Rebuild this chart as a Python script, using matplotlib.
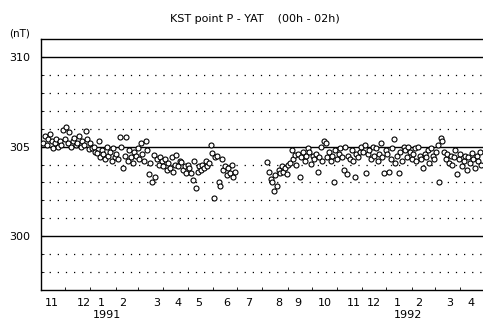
import numpy as np
import matplotlib
matplotlib.use("Agg")
import matplotlib.pyplot as plt

# daily-ish values (nT), sampled every 2 days, days counted from 1990-11-01
seg1_start = 3
seg1_vals = [
    305.2, 305.6, 305.1, 305.4, 305.7, 305.3, 304.9, 305.2, 305.4, 305.0, 305.3,
    305.1, 305.9, 305.4, 306.1, 305.2, 305.8, 305.0, 305.3, 305.5, 305.1,
    305.2, 305.6, 305.0, 305.3, 305.1, 305.85, 305.4, 304.85, 305.2, 304.9, 305.0, 304.7,
    304.65, 305.3, 304.4, 304.8, 304.6, 304.3, 305.0, 304.5, 304.7, 304.2, 304.9, 304.4,
    304.6, 304.3, 305.55, 305.0, 303.8, 304.5, 305.55, 304.2, 304.8, 304.4, 304.1, 304.7,
    304.5, 304.9, 304.3, 305.2,
    304.6, 304.2, 305.3, 304.8, 303.45, 304.1, 303.05, 304.55, 303.3, 304.3, 304.0, 304.4,
    304.2, 303.9, 304.3, 303.7, 304.1, 303.8, 304.4, 303.6, 304.0, 304.55, 303.9, 304.2,
    304.15, 303.7, 303.9, 303.5, 304.0, 303.8,
    303.5, 303.15, 304.2, 302.7, 303.6, 303.9,
    303.7, 304.0, 303.8, 304.2, 303.9, 304.1, 305.1, 304.65,
    302.15, 304.4, 304.5, 303.05, 302.8, 304.3,
    303.7, 303.9, 303.4, 303.8, 303.5, 304.0, 303.3, 303.6,
]
seg2_start = 279
seg2_vals = [
    304.15, 303.6, 303.2, 303.0, 302.5, 303.4, 302.8,
    303.7, 303.5, 303.9, 303.6, 303.8, 303.45, 304.0, 304.1,
    304.8, 304.3, 304.55, 304.0, 304.6, 303.3, 304.4, 304.7, 304.2, 304.5, 304.9,
    304.7, 304.05, 304.5, 304.3, 304.6, 303.6, 304.4, 304.95, 304.2,
    305.3, 305.2, 304.4, 304.7, 304.2, 304.5, 303.05, 304.8, 304.3, 304.6, 304.9, 304.4,
    303.7, 304.95, 303.45, 304.5, 304.3, 304.8, 304.2, 303.3, 304.6, 304.4, 304.7, 305.0,
    304.7, 305.1, 303.5, 304.6, 304.8, 304.3, 305.0, 304.5, 304.9, 304.2, 304.6, 305.2,
    304.4, 303.5, 304.8, 304.6, 303.6, 304.3, 304.9, 305.4, 304.1, 304.5, 303.5, 304.7,
    304.2, 305.0, 304.8, 304.4,
    305.0, 304.7, 304.3, 304.6, 304.9, 304.2, 305.0, 304.5, 304.3, 303.8, 304.6, 304.4,
    304.8, 304.1, 304.9, 304.5, 304.3, 304.7,
    305.1, 303.05, 305.5, 305.3, 304.7, 304.3, 304.6, 304.1, 304.5, 304.0, 304.4, 304.8,
    303.45, 304.3, 304.6, 303.9, 304.2, 304.5, 303.7, 304.4, 304.1, 304.65, 304.3, 303.8,
    304.5, 304.2, 304.7, 304.0,
]

month_labels = ["11", "12", "1", "2", "3", "4", "5", "6", "7", "8", "9",
                "10", "11", "12", "1", "2", "3", "4"]
month_label_days = [13.5, 53, 75, 101, 143, 168.5, 194, 229, 256, 293, 317,
                    350.5, 386, 411, 439, 466, 504, 530]
month_start_days = [0, 30, 61, 92, 120, 151, 181, 212, 242, 273, 304, 334,
                    365, 396, 426, 457, 486, 517]
years = ["1991", "1992"]
year_days = [81, 453]

x1 = seg1_start + 2 * np.arange(len(seg1_vals))
x2 = seg2_start + 2 * np.arange(len(seg2_vals))

fig = plt.figure(figsize=(4.83, 3.26), dpi=100)
ax = fig.add_axes([41 / 483, 36 / 326, 1 - 41 / 483, 251 / 326])

for v in range(298, 311):
    if v % 5 == 0:
        ax.axhline(v, color="black", lw=1.0, zorder=1)
    else:
        ax.axhline(v, color="black", lw=0.9, ls=(0, (1, 5.5)), zorder=1)

ax.plot(x1, seg1_vals, "o", ms=3.6, mfc="white", mec="black", mew=0.8, zorder=3)
ax.plot(x2, seg2_vals, "o", ms=3.6, mfc="white", mec="black", mew=0.8, zorder=3)

ax.set_xlim(0, 545)
ax.set_ylim(297, 311)
ax.spines["right"].set_visible(False)
for s in ["left", "top", "bottom"]:
    ax.spines[s].set_linewidth(1.0)

ax.set_yticks([300, 305, 310])
ax.set_yticklabels(["300", "305", "310"], fontsize=8)
ax.set_yticks(range(297, 312), minor=True)
ax.tick_params(axis="y", which="both", direction="in", length=2, pad=8)

ax.set_xticks(month_start_days, minor=True)
ax.set_xticks([])
ax.tick_params(axis="x", which="minor", direction="in", length=2)
for lab, d in zip(month_labels, month_label_days):
    ax.text(d, -0.03, lab, transform=ax.get_xaxis_transform(),
            ha="center", va="top", fontsize=8)
for lab, d in zip(years, year_days):
    ax.text(d, -0.078, lab, transform=ax.get_xaxis_transform(),
            ha="center", va="top", fontsize=8)

fig.text(20 / 483, 1 - 33 / 326, "(nT)", ha="center", va="center", fontsize=7.5)
fig.text(255 / 483, 1 - 19 / 326, "KST point P - YAT    (00h - 02h)",
         ha="center", va="center", fontsize=8)

fig.savefig("out.png", dpi=100)
